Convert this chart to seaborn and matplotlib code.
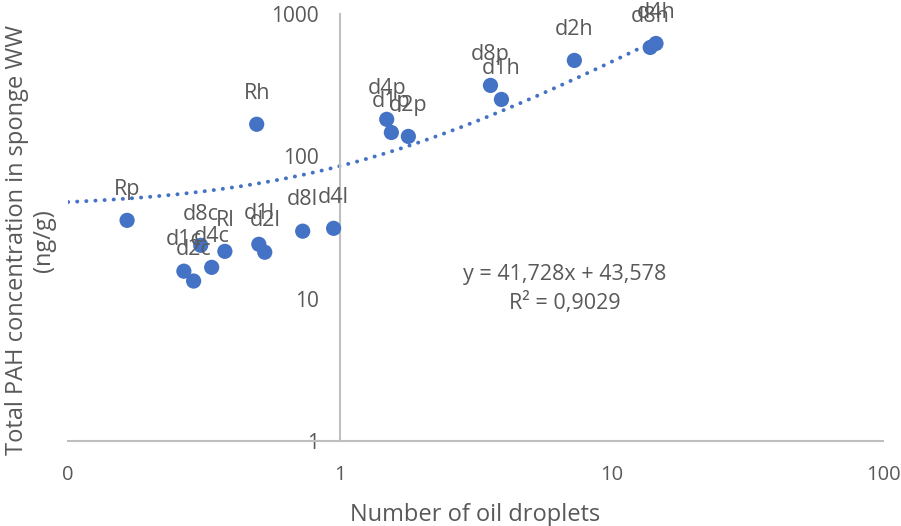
import numpy as np
import pandas as pd
import matplotlib
matplotlib.use("Agg")
import matplotlib.pyplot as plt
import seaborn as sns
from matplotlib.ticker import FixedLocator, FixedFormatter, NullLocator

labels = ["Rp", "d1c", "d2c", "d8c", "d4c", "Rl", "d1l", "d2l", "d8l", "d4l", "Rh",
          "d4p", "d1p", "d2p", "d8p", "d1h", "d2h", "d8h", "d4h"]
droplets = [0.165, 0.267, 0.290, 0.308, 0.338, 0.378, 0.504, 0.530, 0.731, 0.95, 0.495,
            1.49, 1.55, 1.79, 3.59, 3.94, 7.31, 13.9, 14.6]
pah = [35.5, 15.6, 13.3, 23.7, 16.6, 21.5, 24.1, 21.2, 29.8, 31.2, 168,
       182, 147, 138, 315, 251, 472, 582, 621]

slope = 41.728
intercept = 43.578
eq_text = "y = 41,728x + 43,578"
r2_text = "R² = 0,9029"

x_ticks = [0.1, 1, 10, 100]
x_ticklabels = ["0", "1", "10", "100"]
y_ticks = [1, 10, 100, 1000]
y_ticklabels = ["1", "10", "100", "1000"]

blue = "#4472C4"
gray_text = "#595959"
axis_gray = "#BFBFBF"

sns.set_style("white")
plt.rcParams["font.family"] = ["Open Sans", "DejaVu Sans"]

df = pd.DataFrame({"label": labels, "x": droplets, "y": pah})

fig = plt.figure(figsize=(9.01, 5.26), dpi=100)
ax = fig.add_axes([68/901, 1 - 441/526, (883-68)/901, (441-14)/526])

ax.set_xscale("log")
ax.set_yscale("log")
ax.set_xlim(0.1, 100)
ax.set_ylim(1, 1000)

# trendline (linear fit shown on log axes)
tx = np.geomspace(0.1, max(droplets), 300)
trend = pd.DataFrame({"x": tx, "y": slope * tx + intercept})
sns.lineplot(data=trend, x="x", y="y", ax=ax, color=blue, lw=2.8,
             linestyle=(0, (0.05, 2.3)), zorder=2)
for l in ax.get_lines():
    l.set_dash_capstyle("round")

sns.scatterplot(data=df, x="x", y="y", ax=ax, color=blue, s=120,
                edgecolor="none", zorder=3)

for lab, xv, yv in zip(labels, droplets, pah):
    ax.annotate(lab, (xv, yv), xytext=(0, 22.5), textcoords="offset points",
                ha="center", va="center", fontsize=15.5, color=gray_text, zorder=4)

for s in ["top", "right"]:
    ax.spines[s].set_visible(False)
ax.spines["left"].set_position(("data", 1))
ax.spines["left"].set_color(axis_gray)
ax.spines["left"].set_linewidth(1.5)
ax.spines["bottom"].set_color(axis_gray)
ax.spines["bottom"].set_linewidth(1.5)

ax.xaxis.set_major_locator(FixedLocator(x_ticks))
ax.xaxis.set_major_formatter(FixedFormatter(x_ticklabels))
ax.xaxis.set_minor_locator(NullLocator())
ax.yaxis.set_major_locator(FixedLocator(y_ticks))
ax.yaxis.set_major_formatter(FixedFormatter(y_ticklabels))
ax.yaxis.set_minor_locator(NullLocator())
ax.tick_params(axis="x", length=0, pad=17, labelsize=14.5, labelcolor=gray_text)
ax.tick_params(axis="y", length=0, pad=15, labelsize=15, labelcolor=gray_text)

ax.set_xlabel("Number of oil droplets", fontsize=17, color=gray_text)
ax.xaxis.set_label_coords(0.5, -0.145)
ax.set_ylabel("Total PAH concentration in sponge WW\n(ng/g)", fontsize=17,
              color=gray_text, linespacing=1.15)
ax.yaxis.set_label_coords(-0.015, 0.47)

ax.text(0.610, 0.389, eq_text, transform=ax.transAxes, ha="center", va="center",
        fontsize=15.5, color=gray_text)
ax.text(0.610, 0.323, r2_text, transform=ax.transAxes, ha="center", va="center",
        fontsize=15.5, color=gray_text)

fig.savefig("out.png", dpi=100)
